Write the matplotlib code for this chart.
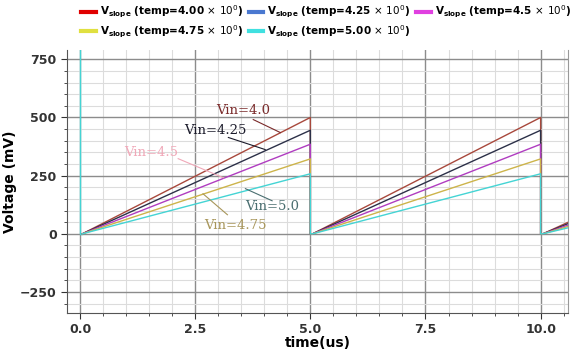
import numpy as np
import matplotlib.pyplot as plt
from matplotlib.lines import Line2D
from matplotlib.ticker import MultipleLocator

# temps des rampes (us)
t = [0.05, 5.0, 5.0, 5.05, 10.0, 10.0, 10.05, 10.6]
# tension (mV) pour chaque Vin
v_40 = [0, 500, 0, 0, 500, 0, 0, 50]
v_425 = [0, 445, 0, 0, 445, 0, 0, 44]
v_45 = [0, 385, 0, 0, 385, 0, 0, 38]
v_475 = [0, 322, 0, 0, 322, 0, 0, 32]
v_50 = [0, 258, 0, 0, 258, 0, 0, 26]
# depart du cyan (pic initial hors echelle)
t_init = [0.0, 0.0, 0.05]
v_init = [900, 0, 0]

series = [v_40, v_425, v_45, v_475, v_50]
line_colors = ['#a8483c', '#2c3048', '#b03cc0', '#cdb44a', '#44d4d4']
legend_colors = ['#e00000', '#4a78d0', '#e040e0', '#e0e040', '#40e0e0']
temps = ['4.00', '4.25', '4.5', '4.75', '5.00']

fig = plt.figure(figsize=(5.74, 3.52), dpi=100)
ax = fig.add_axes([0.117, 0.111, 0.873, 0.747])

ax.plot(t_init, v_init, color=line_colors[4], lw=1)
for v, c in zip(series, line_colors):
    ax.plot(t, v, color=c, lw=1)

ax.set_xlim(-0.28, 10.6)
ax.set_ylim(-340, 790)
ax.xaxis.set_major_locator(MultipleLocator(2.5))
ax.xaxis.set_minor_locator(MultipleLocator(0.5))
ax.yaxis.set_major_locator(MultipleLocator(250))
ax.yaxis.set_minor_locator(MultipleLocator(50))
ax.grid(which='major', color='#8c8c8c', lw=1)
ax.grid(which='minor', color='#dcdcdc', lw=0.8)
ax.set_axisbelow(True)
ax.xaxis.set_major_formatter(plt.FormatStrFormatter('%.1f'))
ax.tick_params(which='both', direction='out', colors='#333333', labelsize=9)
ax.tick_params(which='major', length=4)
ax.tick_params(which='minor', length=2)
for lab in ax.get_xticklabels() + ax.get_yticklabels():
    lab.set_fontweight('bold')
ax.spines['top'].set_visible(False)
for s in ['left', 'bottom', 'right']:
    ax.spines[s].set_color('#555555')
ax.spines['right'].set_color('#999999')

ax.set_xlabel('time(us)', fontsize=10, fontweight='bold', labelpad=0)
ax.set_ylabel('Voltage (mV)', fontsize=10, fontweight='bold', labelpad=2)

# annotations
notes = [
    ('Vin=4.0', (3.54, 530), (3.76, 491), (4.35, 435), '#7a2a2a'),
    ('Vin=4.25', (2.93, 444), (3.22, 414), (4.02, 362), '#1a1a2a'),
    ('Vin=4.5', (1.54, 349), (2.13, 323), (3.11, 241), '#f0a8b8'),
    ('Vin=5.0', (4.17, 116), (4.17, 142), (3.59, 194), '#4a6e70'),
    ('Vin=4.75', (3.37, 34), (3.2, 82), (2.67, 172), '#a8965a'),
]
for txt, pos, p0, p1, c in notes:
    ax.text(pos[0], pos[1], txt, family='DejaVu Serif', fontsize=9.5,
            color=c, ha='center', va='center')
    ax.plot([p0[0], p1[0]], [p0[1], p1[1]], color=c, lw=0.8)

# legende remplie ligne par ligne
handles = [Line2D([], [], color=c, lw=3) for c in legend_colors]
labels = [r'V$_{\mathbf{slope}}$ (temp=%s$\,\times\,10^0$)' % s for s in temps]
order = [0, 3, 1, 4, 2]
fig.legend([handles[i] for i in order], [labels[i] for i in order],
           ncol=3, loc='upper left', bbox_to_anchor=(0.125, 1.015),
           frameon=False, prop={'weight': 'bold', 'size': 7.5},
           handlelength=1.4, handletextpad=0.4, columnspacing=0.5,
           labelspacing=0.3)

fig.savefig('out.png', dpi=100)
